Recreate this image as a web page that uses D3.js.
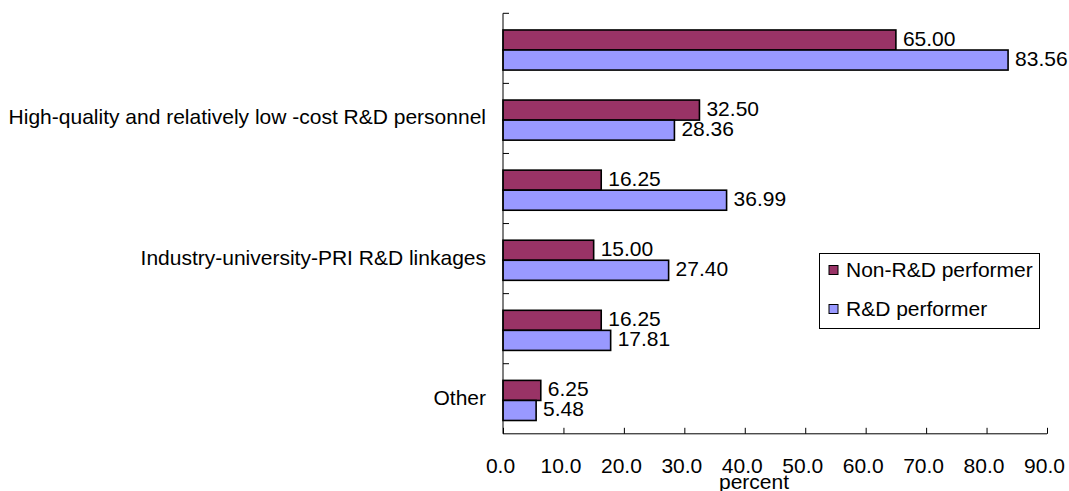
<!DOCTYPE html>
<html>
<head>
<meta charset="utf-8">
<script src="https://cdn.jsdelivr.net/npm/d3@7/dist/d3.min.js"></script>
<style>
  html, body { margin: 0; padding: 0; background: #fff; }
  svg { display: block; font-family: "Liberation Sans", Arial, sans-serif; }
</style>
</head>
<body>
<svg id="chart" width="1069" height="491"></svg>
<script>
// Category labels, top to bottom (some rows carry no printed label)
const categories = [
  "",
  "High-quality and relatively low -cost R&D personnel",
  "",
  "Industry-university-PRI R&D linkages",
  "",
  "Other"
];
const seriesNames = ["Non-R&D performer", "R&D performer"];
const nonRDValues = [65.00, 32.50, 16.25, 15.00, 16.25, 6.25];
const rdValues    = [83.56, 28.36, 36.99, 27.40, 17.81, 5.48];
const xTicks = [0, 10, 20, 30, 40, 50, 60, 70, 80, 90];
const xTitle = "percent";

const colors = ["#993366", "#9999FF"];
const seriesValues = [nonRDValues, rdValues];
const fontSize = 21;

const svg = d3.select("#chart");
svg.append("rect").attr("width", 1069).attr("height", 491).attr("fill", "#fff");

const plot = { left: 503, right: 1047, top: 13.3, bottom: 433.8 };

const x = d3.scaleLinear().domain([0, 90]).range([plot.left, plot.right]);
const y = d3.scaleBand()
  .domain(d3.range(categories.length))
  .range([plot.top, plot.bottom])
  .padding(0);
const step = y.step();
const inner = d3.scaleBand()
  .domain(d3.range(seriesNames.length))
  .range([step * 0.238, step * 0.81])
  .padding(0);

// Bars
const rows = svg.append("g").selectAll("g.row")
  .data(categories.map((c, i) => i))
  .join("g")
  .attr("class", "row")
  .attr("transform", i => `translate(0,${y(i)})`);

rows.selectAll("rect")
  .data(i => seriesValues.map((vals, s) => ({ s, v: vals[i] })))
  .join("rect")
  .attr("x", x(0))
  .attr("y", d => inner(d.s))
  .attr("width", d => x(d.v) - x(0))
  .attr("height", inner.bandwidth())
  .attr("fill", d => colors[d.s])
  .attr("stroke", "#000")
  .attr("stroke-width", 1.6);

// Value labels
rows.selectAll("text.val")
  .data(i => seriesValues.map((vals, s) => ({ s, v: vals[i] })))
  .join("text")
  .attr("class", "val")
  .attr("x", d => x(d.v) + 7)
  .attr("y", d => inner(d.s) + inner.bandwidth() / 2 + 6)
  .attr("font-size", fontSize)
  .attr("fill", "#000")
  .text(d => d.v.toFixed(2));

// Y axis: line, boundary ticks, category labels
const yAxis = svg.append("g");
yAxis.append("line")
  .attr("x1", plot.left).attr("x2", plot.left)
  .attr("y1", plot.top).attr("y2", plot.bottom)
  .attr("stroke", "#000").attr("stroke-width", 1);
yAxis.selectAll("line.tick")
  .data(d3.range(categories.length))
  .join("line")
  .attr("class", "tick")
  .attr("x1", plot.left).attr("x2", plot.left + 6)
  .attr("y1", i => y(i)).attr("y2", i => y(i))
  .attr("stroke", "#000").attr("stroke-width", 1);
yAxis.selectAll("text")
  .data(categories)
  .join("text")
  .attr("x", 486)
  .attr("y", (c, i) => y(i) + step / 2 + 6)
  .attr("text-anchor", "end")
  .attr("font-size", fontSize)
  .attr("fill", "#000")
  .text(c => c);

// X axis
const xAxis = svg.append("g")
  .attr("transform", `translate(0,${plot.bottom})`)
  .call(d3.axisBottom(x).tickValues(xTicks).tickSize(-6).tickSizeOuter(0)
    .tickFormat(d3.format(".1f")));
xAxis.select(".domain").attr("stroke", "#000").attr("d", `M${plot.left},0H${plot.right}`);
xAxis.selectAll(".tick line").attr("stroke", "#000");
xAxis.selectAll(".tick text")
  .attr("y", 39).attr("dy", null).attr("dx", -3)
  .attr("font-size", fontSize)
  .attr("font-family", "Liberation Sans, Arial, sans-serif")
  .attr("fill", "#000");

svg.append("text")
  .attr("x", 754).attr("y", 489)
  .attr("text-anchor", "middle")
  .attr("font-size", fontSize)
  .attr("fill", "#000")
  .text(xTitle);

// Legend
const legend = svg.append("g");
legend.append("rect")
  .attr("x", 819.5).attr("y", 253.5).attr("width", 220).attr("height", 75)
  .attr("fill", "#fff").attr("stroke", "#000").attr("stroke-width", 1);
const items = legend.selectAll("g.item")
  .data(seriesNames)
  .join("g")
  .attr("class", "item")
  .attr("transform", (d, i) => `translate(0,${i === 0 ? 270 : 309})`);
items.append("rect")
  .attr("x", 829).attr("y", -4.5).attr("width", 9).attr("height", 9)
  .attr("fill", (d, i) => colors[i])
  .attr("stroke", "#000").attr("stroke-width", 1);
items.append("text")
  .attr("x", 846).attr("y", 7)
  .attr("font-size", fontSize)
  .attr("fill", "#000")
  .text(d => d);
</script>
</body>
</html>
